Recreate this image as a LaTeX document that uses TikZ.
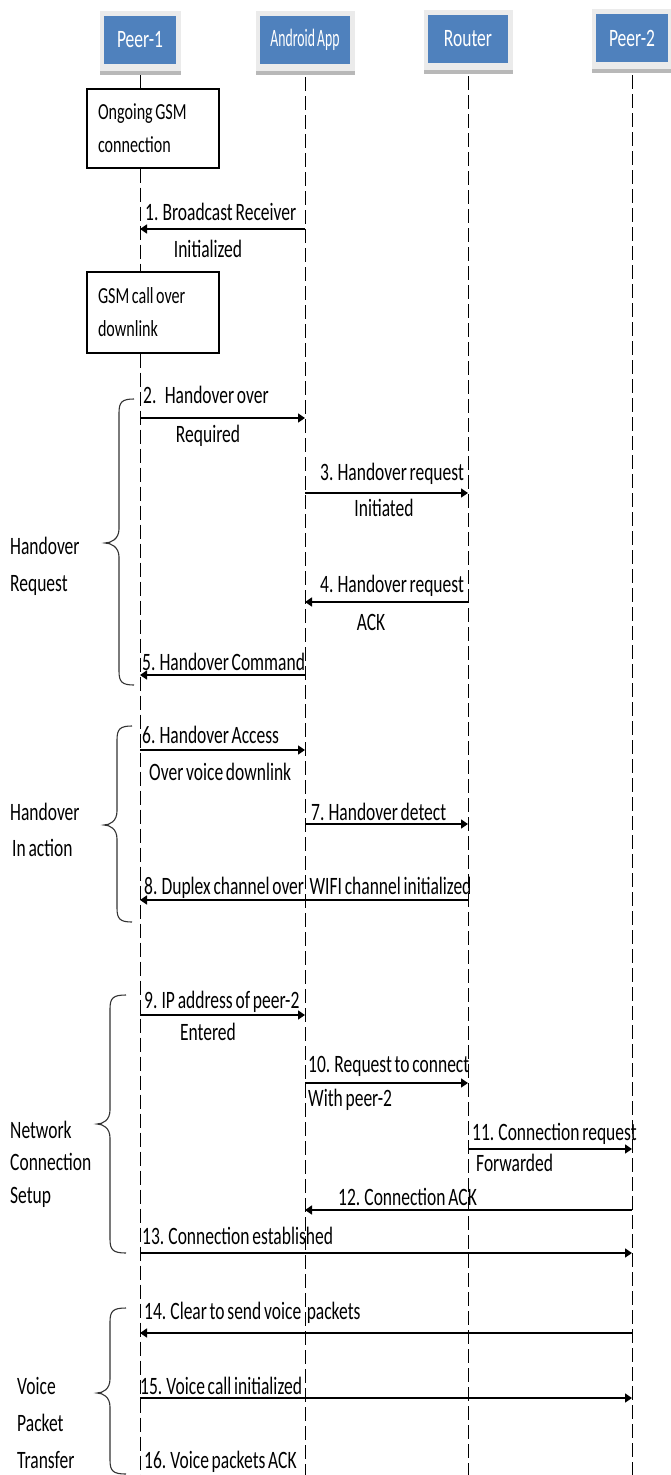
\documentclass[tikz,border=0pt]{standalone}
\usepackage{fontspec}
\setmainfont{Carlito}[FakeStretch=0.7,WordSpace=0.7]
\newfontfamily\narrowfont{Carlito}[FakeStretch=0.55,WordSpace=0.7]
\usetikzlibrary{arrows.meta,backgrounds}
\definecolor{hdrblue}{HTML}{4F81BD}
\newcommand{\curlybr}[6]{\draw[brc] (#1,#4) .. controls (#2+3,#4) and (#2,#4+3) .. (#2,#4+14) -- (#2,#5-14) .. controls (#2,#5-4) and (#3+6,#5) .. (#3,#5) .. controls (#3+6,#5) and (#2,#5+4) .. (#2,#5+14) -- (#2,#6-14) .. controls (#2,#6-3) and (#2+3,#6) .. (#1,#6);}
\begin{document}
\begin{tikzpicture}[x=1pt,y=-1pt,
 hdr/.style={fill=hdrblue, text=white, minimum height=48pt, inner sep=0pt, font=\fontsize{25}{30}\selectfont},
 life/.style={line width=0.9pt, dash pattern=on 14pt off 5pt},
 msg/.style={line width=1.6pt, -{Triangle[length=7pt,width=9pt]}},
 lbl/.style={inner sep=0pt, anchor=base west, font=\fontsize{25}{30}\selectfont},
 clbl/.style={inner sep=0pt, anchor=base, font=\fontsize{25}{30}\selectfont},
 gsm/.style={draw, line width=1.3pt, fill=white, align=left, text width=110pt, inner xsep=11pt, inner ysep=0pt, font=\fontsize{23}{33}\selectfont},
 grp/.style={inner sep=0pt, anchor=west, align=left},
 brc/.style={line width=1.1pt, black!80}]
\useasboundingbox (0,0) rectangle (670,1475);
% headers
\node[hdr, minimum width=72pt] (p1) at (140,40) {Peer-1};
\node[hdr, minimum width=90pt, font=\narrowfont\fontsize{25}{30}\selectfont] (aa) at (305,40) {Android App};
\node[hdr, minimum width=80pt] (rt) at (468,39) {Router};
\node[hdr, minimum width=72pt] (p2) at (632,38) {Peer-2};
% GSM boxes
\node[gsm, minimum height=79pt] (g1) at (153,128.5) {\spaceskip=0pt\relax Ongoing GSM\\connection};
\node[gsm, minimum height=81pt] (g2) at (153,312.5) {\spaceskip=0pt\relax GSM call over\\downlink};
\coordinate (bot) at (0,1475);
\begin{scope}[on background layer]
 \fill[white] (0,0) rectangle (670,1475);
 \foreach \n in {p1,aa,rt,p2} {
  \fill[black!8] ([xshift=-4pt,yshift=5pt]\n.north west) rectangle ([xshift=5pt,yshift=-11pt]\n.south east);
  \fill[black!28] ([xshift=-4pt,yshift=-7pt]\n.south west) rectangle ([xshift=5pt,yshift=-11pt]\n.south east);
 }
 % lifelines
 \draw[line width=0.9pt] ([yshift=-11pt]p1.south) -- (g1.north -| p1.south);
 \draw[life] (g1.south -| p1.south) -- (g2.north -| p1.south);
 \draw[life] (g2.south -| p1.south) -- (bot -| p1.south);
 \foreach \n in {aa,rt,p2} \draw[life] ([yshift=-13pt]\n.south) -- (bot -| \n.south);
\end{scope}
% messages
\foreach \a/\b/\y in {aa/p1/229, p1/aa/418, aa/rt/493, rt/aa/602, aa/p1/675, p1/aa/750, aa/rt/824, rt/p1/900, p1/aa/1015, aa/rt/1083, rt/p2/1149, p2/aa/1210, p1/p2/1253, p2/p1/1333, p1/p2/1398}
  \draw[msg] (\a.south |- 0,\y) -- (\b.south |- 0,\y);
% labels
\node[lbl] (m1a) at (145,220) {1. Broadcast Receiver};
\node[clbl] (m1b) at (208,257) {Initialized};
\node[lbl] (m2a) at (143,403) {2.\ \ \ Handover over};
\node[clbl] (m2b) at (208,442) {Required};
\node[lbl] (m3a) at (320,480) {3. Handover request};
\node[clbl] (m3b) at (384,516) {Initiated};
\node[lbl] (m4a) at (320,592) {4. Handover request};
\node[clbl] (m4b) at (371,630) {ACK};
\node[lbl] (m5) at (142,670) {5. Handover Command};
\node[lbl] (m6a) at (142,743) {6. Handover Access};
\node[lbl] (m6b) at (149,780) {Over voice downlink};
\node[lbl] (m7) at (311,820) {7. Handover detect};
\node[lbl] (m8) at (144,894) {8. Duplex channel over\ \ WIFI channel initialized};
\node[lbl] (m9a) at (144,1008) {9. IP address of peer-2};
\node[clbl] (m9b) at (208,1040) {Entered};
\node[lbl] (m10a) at (308,1072) {10. Request to connect};
\node[lbl] (m10b) at (308,1106) {With peer-2};
\node[lbl] (m11a) at (472,1140) {11. Connection request};
\node[lbl] (m11b) at (476,1171) {Forwarded};
\node[lbl] (m12) at (338,1205) {12. Connection ACK};
\node[lbl] (m13) at (142,1244) {13. Connection established};
\node[lbl] (m14) at (144,1319) {14. Clear to send voice\ \ packets};
\node[lbl] (m15) at (140,1394) {15. Voice call initialized};
\node[lbl] (m16) at (144,1468) {16. Voice packets ACK};
% braces
\curlybr{134}{119}{105}{399}{543}{685}
\curlybr{132}{117}{104}{726}{825}{922}
\curlybr{126}{110}{97}{995}{1124}{1253}
\curlybr{126}{110}{97}{1308}{1393}{1474}
% group labels
\node[grp, font=\fontsize{25}{37}\selectfont] (gA) at (10,566) {Handover\\Request};
\node[grp, font=\fontsize{25}{36}\selectfont] (gB) at (10,830) {Handover\\\hspace{2pt}In action};
\node[grp, font=\fontsize{25}{32.5}\selectfont] (gC) at (10,1164) {Network\\Connection\\Setup};
\node[grp, font=\fontsize{25}{37}\selectfont] (gD) at (17,1423) {Voice\\Packet\\Transfer};
\end{tikzpicture}
\end{document}
